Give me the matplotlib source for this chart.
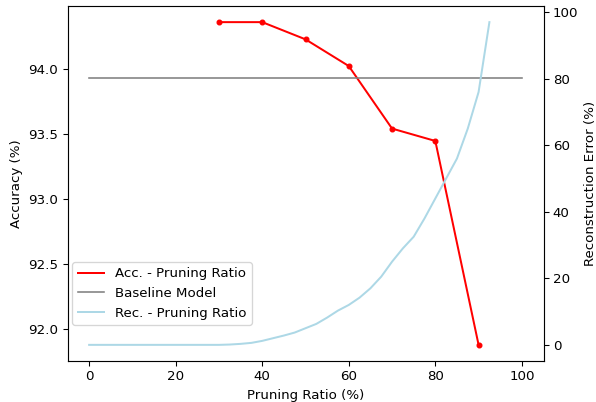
import matplotlib
matplotlib.use("Agg")
import matplotlib.pyplot as plt

# accuracy vs pruning ratio
acc_ratio = [30, 40, 50, 60, 70, 80, 90]
acc_values = [94.357, 94.357, 94.225, 94.02, 93.54, 93.445, 91.88]

baseline_x = [0, 100]
baseline_acc = 93.928

# reconstruction error vs pruning ratio
rec_ratio = [0, 2.5, 5, 7.5, 10, 12.5, 15, 17.5, 20, 22.5, 25, 27.5, 30,
             32.5, 35, 37.5, 40, 42.5, 45, 47.5, 50, 52.5, 55, 57.5, 60,
             62.5, 65, 67.5, 70, 72.5, 75, 77.5, 80, 82.5, 85, 87.5, 90, 92.5]
rec_error = [0, 0, 0, 0, 0, 0, 0, 0, 0, 0, 0, 0, 0,
             0.1, 0.3, 0.6, 1.2, 2.0, 2.8, 3.7, 5.0, 6.3, 8.2, 10.3, 12.0,
             14.2, 17.0, 20.5, 25.0, 29.0, 32.5, 38.0, 44.0, 50.0, 56.0, 65.0, 76.0, 97.0]


def main():
    dpi = 96
    fig, ax1 = plt.subplots(figsize=(596 / dpi, 402 / dpi), dpi=dpi)
    fig.subplots_adjust(left=67.5 / 596, right=543.5 / 596,
                        top=1 - 6 / 402, bottom=1 - 361 / 402)

    l1, = ax1.plot(acc_ratio, acc_values, color="red", linewidth=1.5,
                   label="Acc. - Pruning Ratio")
    ax1.plot(acc_ratio, acc_values, linestyle="none", marker="o",
             markersize=3.5, color="red")
    l2, = ax1.plot(baseline_x, [baseline_acc] * len(baseline_x), color="gray",
                   linewidth=1.2, label="Baseline Model")
    ax1.set_xlabel("Pruning Ratio (%)")
    ax1.set_ylabel("Accuracy (%)")

    ax2 = ax1.twinx()
    l3, = ax2.plot(rec_ratio, rec_error, color="lightblue", linewidth=1.5,
                   label="Rec. - Pruning Ratio")
    ax2.set_ylabel("Reconstruction Error (%)")

    ax2.legend(handles=[l1, l2, l3], loc="lower left",
               bbox_to_anchor=(0.010, 0.101), borderaxespad=0)

    fig.savefig("out.png", dpi=dpi)


if __name__ == "__main__":
    main()
